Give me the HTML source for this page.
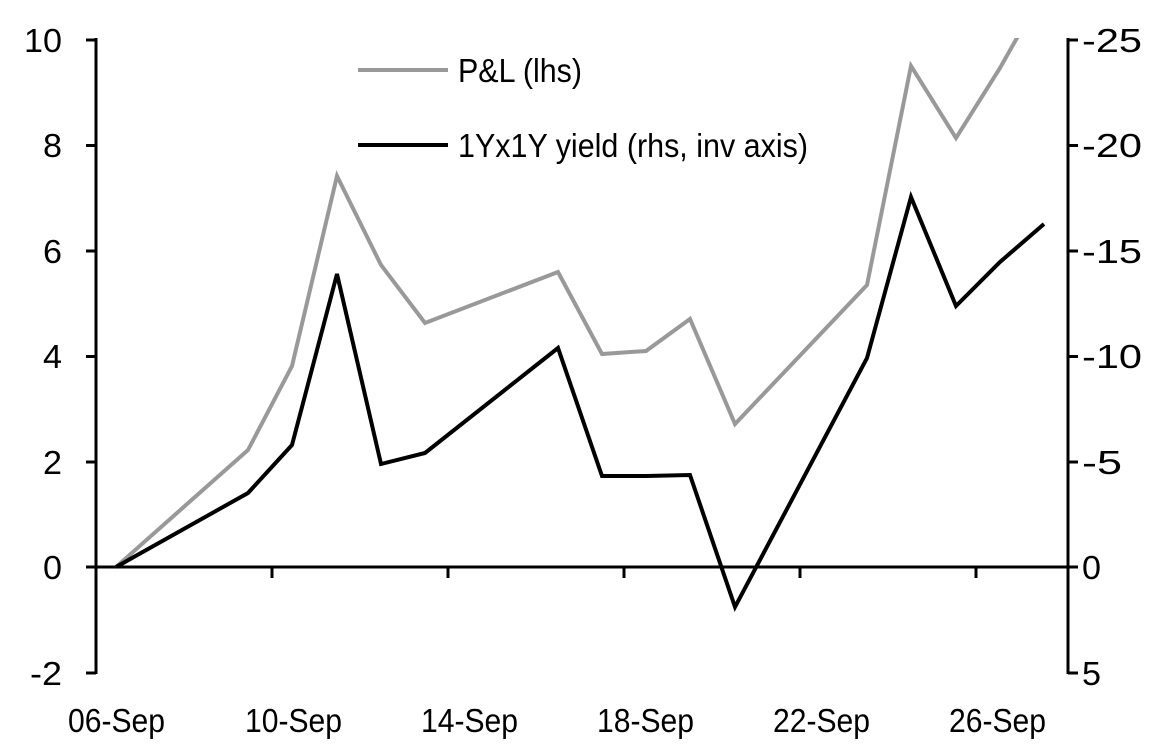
<!DOCTYPE html>
<html><head><style>body{margin:0;background:#fff}svg{display:block}</style></head><body>
<svg width="1152" height="745" xmlns="http://www.w3.org/2000/svg" font-family="Liberation Sans, Arial, sans-serif" font-size="33">
<defs><clipPath id="c"><rect x="96" y="38" width="975" height="640"/></clipPath></defs>
<g stroke="#000" stroke-width="3" fill="none">
<line x1="96" y1="38" x2="96" y2="674"/>
<line x1="1068" y1="38" x2="1068" y2="674"/>
<line x1="96" y1="567" x2="1068" y2="567"/>
<path d="M86 40H96M86 145.5H96M86 251H96M86 356.5H96M86 462H96M86 567H96M86 673H96"/>
<path d="M1068 40H1078M1068 145.5H1078M1068 251H1078M1068 356.5H1078M1068 462H1078M1068 567H1078M1068 673H1078"/>
<path d="M272 567V578M448 567V578M624 567V578M800 567V578M976 567V578"/>
</g>
<g clip-path="url(#c)" fill="none" stroke-width="4" stroke-linejoin="miter">
<polyline stroke="#999" points="116,567 248,450 292,366 337,176 381,265 425,323 558,272 602,354 646,351 690,319 735,424 867,285 911,66 956,138 1000,68 1044,-10"/>
<polyline stroke="#000" points="116,567 248,493 292,445 337,274 381,464 425,453 558,348 602,476 646,476 690,475 735,607 867,358 911,197 956,306 1000,262 1044,224"/>
</g>
<line x1="358" y1="70" x2="448" y2="70" stroke="#999" stroke-width="4"/>
<line x1="358" y1="145" x2="448" y2="145" stroke="#000" stroke-width="4"/>
<text x="458" y="82" textLength="124" lengthAdjust="spacingAndGlyphs">P&amp;L (lhs)</text>
<text x="458" y="157" textLength="350" lengthAdjust="spacingAndGlyphs">1Yx1Y yield (rhs, inv axis)</text>
<g text-anchor="end" lengthAdjust="spacingAndGlyphs">
<text x="62" y="52" textLength="38" lengthAdjust="spacingAndGlyphs">10</text>
<text x="62" y="157" textLength="19" lengthAdjust="spacingAndGlyphs">8</text>
<text x="62" y="263" textLength="19" lengthAdjust="spacingAndGlyphs">6</text>
<text x="62" y="368" textLength="19" lengthAdjust="spacingAndGlyphs">4</text>
<text x="62" y="474" textLength="19" lengthAdjust="spacingAndGlyphs">2</text>
<text x="62" y="579" textLength="19" lengthAdjust="spacingAndGlyphs">0</text>
<text x="62" y="685" textLength="32" lengthAdjust="spacingAndGlyphs">-2</text>
</g>
<g>
<text x="1082" y="52" textLength="60" lengthAdjust="spacingAndGlyphs">-25</text>
<text x="1082" y="157" textLength="60" lengthAdjust="spacingAndGlyphs">-20</text>
<text x="1082" y="263" textLength="60" lengthAdjust="spacingAndGlyphs">-15</text>
<text x="1082" y="368" textLength="60" lengthAdjust="spacingAndGlyphs">-10</text>
<text x="1082" y="474" textLength="40" lengthAdjust="spacingAndGlyphs">-5</text>
<text x="1082" y="579" textLength="19" lengthAdjust="spacingAndGlyphs">0</text>
<text x="1082" y="685" textLength="19" lengthAdjust="spacingAndGlyphs">5</text>
</g>
<g>
<text x="68" y="732" textLength="97" lengthAdjust="spacingAndGlyphs">06-Sep</text>
<text x="245" y="732" textLength="97" lengthAdjust="spacingAndGlyphs">10-Sep</text>
<text x="421" y="732" textLength="97" lengthAdjust="spacingAndGlyphs">14-Sep</text>
<text x="597" y="732" textLength="97" lengthAdjust="spacingAndGlyphs">18-Sep</text>
<text x="773" y="732" textLength="97" lengthAdjust="spacingAndGlyphs">22-Sep</text>
<text x="949" y="732" textLength="97" lengthAdjust="spacingAndGlyphs">26-Sep</text>
</g>
</svg>
</body></html>
